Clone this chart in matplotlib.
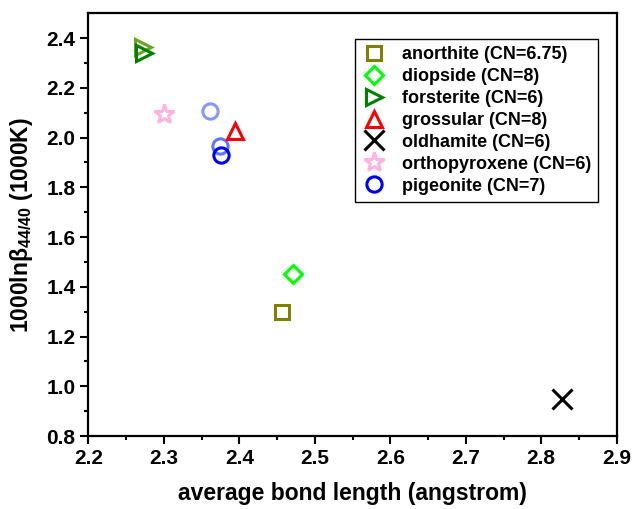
import matplotlib.pyplot as plt

plt.rcParams['font.family'] = ['Liberation Sans', 'DejaVu Sans']
plt.rcParams['font.weight'] = 'bold'
plt.rcParams['mathtext.fontset'] = 'custom'
plt.rcParams['mathtext.rm'] = 'Liberation Sans'
plt.rcParams['mathtext.bf'] = 'Liberation Sans:bold'

# mineral, marker, colour, bond length, 1000ln(beta)
minerals = ['anorthite (CN=6.75)', 'diopside (CN=8)', 'forsterite (CN=6)',
            'grossular (CN=8)', 'oldhamite (CN=6)', 'orthopyroxene (CN=6)',
            'pigeonite (CN=7)']
markers = ['s', 'D', '>', '^', 'x', '*', 'o']
colors = ['#808000', '#00ff00', '#008000', '#ff0000', '#000000', '#ffb3de', '#0000ff']
bond_len = [2.456, 2.471, 2.274, 2.394, 2.827, 2.300, 2.376]
beta = [1.300, 1.450, 2.341, 2.025, 0.950, 2.094, 1.930]
sizes = [10, 9, 11, 12, 14, 15, 11]

# extra points (other estimates) drawn lighter, not in legend
extra_x = [2.272, 2.361, 2.374]
extra_y = [2.366, 2.108, 1.967]
extra_markers = ['>', 'o', 'o']
extra_colors = ['#6aa51c', '#8896ff', '#5a78ff']

fig = plt.figure(figsize=(6.43, 5.09), dpi=100)
ax = fig.add_axes([0.1376, 0.1434, 0.8215, 0.8305])

for x, y, m, c in zip(extra_x, extra_y, extra_markers, extra_colors):
    ax.plot(x, y, linestyle='none', marker=m, markersize=11,
            markerfacecolor='none', markeredgecolor=c, markeredgewidth=2.2)

for name, m, c, x, y, s in zip(minerals, markers, colors, bond_len, beta, sizes):
    if m == 'x':
        ax.plot(x, y, linestyle='none', marker=m, markersize=s, color=c,
                markeredgewidth=2.2, label=name)
    else:
        ax.plot(x, y, linestyle='none', marker=m, markersize=s,
                markerfacecolor='none', markeredgecolor=c, markeredgewidth=2.2,
                label=name)

ax.set_xlim(2.2, 2.9)
ax.set_ylim(0.8, 2.5)
ax.set_xticks([2.2, 2.3, 2.4, 2.5, 2.6, 2.7, 2.8, 2.9])
ax.set_yticks([0.8, 1.0, 1.2, 1.4, 1.6, 1.8, 2.0, 2.2, 2.4])
ax.set_xticks([2.25, 2.35, 2.45, 2.55, 2.65, 2.75, 2.85], minor=True)
ax.set_yticks([0.9, 1.1, 1.3, 1.5, 1.7, 1.9, 2.1, 2.3], minor=True)
ax.tick_params(which='major', direction='out', length=6, width=1.5, labelsize=15)
ax.tick_params(which='minor', direction='out', length=3, width=1.5)
for sp in ax.spines.values():
    sp.set_linewidth(1.6)

ax.set_xlabel('average bond length (angstrom)', fontsize=16.5, fontweight='bold', labelpad=10)
ax.set_ylabel(r'1000lnβ$_{\mathrm{44/40}}$ (1000K)', fontsize=16.5, fontweight='bold', labelpad=8)

leg = ax.legend(loc='upper right', bbox_to_anchor=(0.9646, 0.939), borderaxespad=0,
                fontsize=13, frameon=True, fancybox=False, edgecolor='black',
                framealpha=1, handletextpad=0.85, labelspacing=0.27,
                borderpad=0.4, handlelength=1.3)
leg.get_frame().set_linewidth(1.0)

fig.savefig('out.png', dpi=100)
